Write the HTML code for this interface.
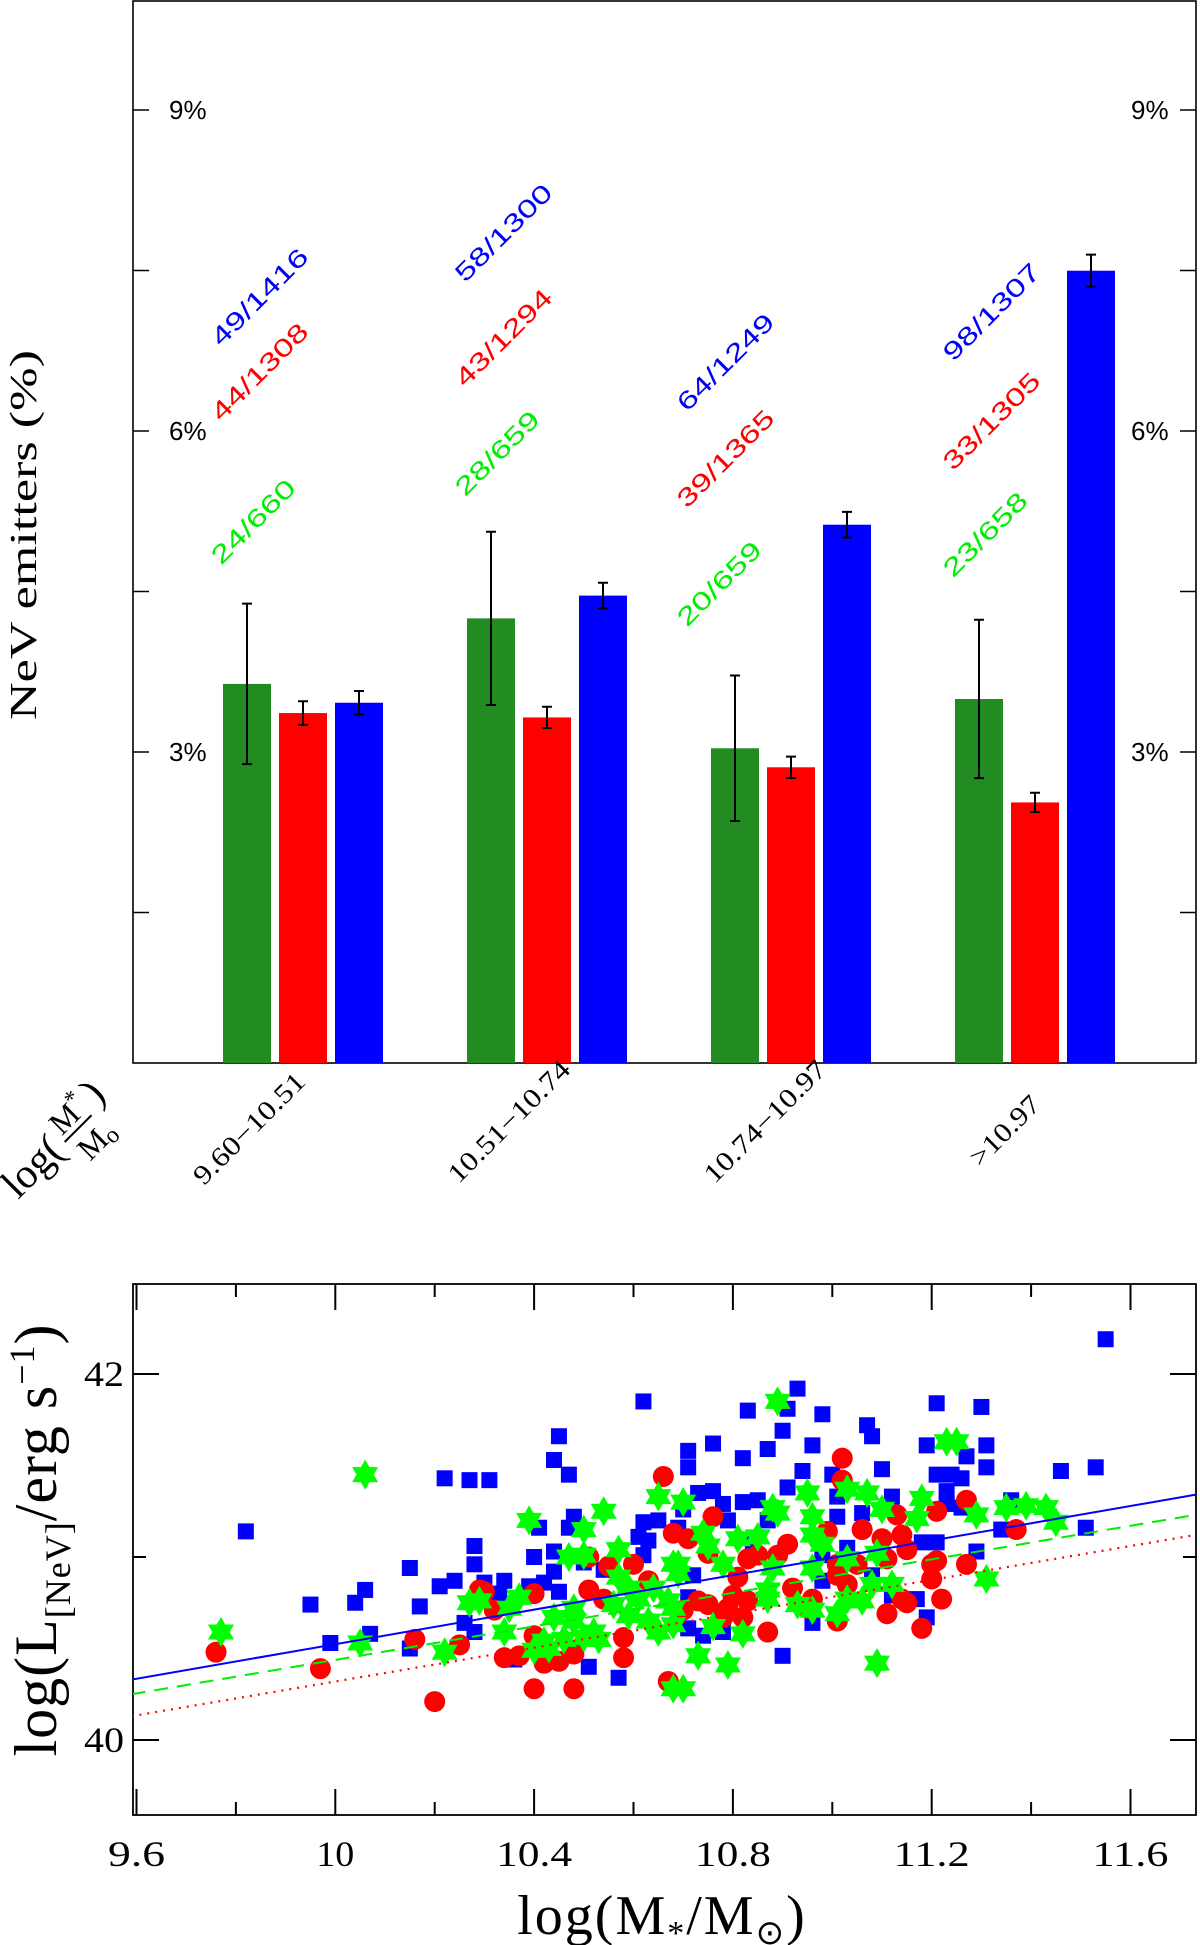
<!DOCTYPE html>
<html><head><meta charset="utf-8"><title>NeV emitters vs stellar mass</title>
<style>
html,body{margin:0;padding:0;background:#fff;}
svg{display:block;}
text{font-family:"Liberation Serif",serif;}
.s{font-family:"Liberation Sans",sans-serif;}
</style></head>
<body>
<svg id="fig" width="1200" height="1945" viewBox="0 0 1200 1945" xmlns="http://www.w3.org/2000/svg">
<g id="topPanel"></g>
<g id="botPanel"></g>
</svg>
<script>
// ---------- Top chart data ----------
const binLabels = ["9.60\u221210.51","10.51\u221210.74","10.74\u221210.97",">10.97"];
const greenNum = [24,28,20,23];
const greenDen = [660,659,659,658];
const redNum = [44,43,39,33];
const redDen = [1308,1294,1365,1305];
const blueNum = [49,58,64,98];
const blueDen = [1416,1300,1249,1307];
const greenErr = [0.75,0.81,0.68,0.74];
const redErr = [0.11,0.10,0.10,0.09];
const blueErr = [0.11,0.12,0.12,0.15];
const pctTicks = [3,6,9];
const pctTickLabels = ["3%","6%","9%"];
const minorPct = [1.5,4.5,7.5];
const greenLabelY = [4.74,5.38,4.16,4.62];
const redLabelY = [6.08,6.40,5.27,5.62];
const blueLabelY = [6.78,7.38,6.17,6.64];

// ---------- Bottom chart data ----------
const xTicks = [9.6,10,10.4,10.8,11.2,11.6];
const xTickLabels = ["9.6","10","10.4","10.8","11.2","11.6"];
const xMinor = [9.8,10.2,10.6,11.0,11.4];
const yTicks = [40,42];
const yTickLabels = ["40","42"];
const yMinor = [41];
const fitX = [9.59,11.73];
const blueFit = [40.33,41.34];
const greenFit = [40.25,41.23];
const redFit = [40.13,41.12];
const blueX = [9.82,9.95,10.04,10.06,10.15,10.21,10.17,10.24,10.28,10.28,10.22,10.27,10.31,10.45,10.44,10.47,10.62,10.48,10.41,10.40,10.44,10.34,10.30,10.33,10.39,10.42,10.45,10.47,10.26,10.28,10.07,9.99,10.15,10.51,10.57,10.36,10.62,10.65,10.61,10.63,10.62,10.54,10.44,10.50,
11.55,10.93,10.83,10.91,10.98,10.90,10.76,10.87,10.96,10.82,10.71,10.71,10.94,11.07,11.08,11.10,11.21,11.30,11.19,11.31,11.27,11.31,11.21,11.24,11.26,11.46,11.53,10.91,10.82,10.85,10.76,10.78,10.73,10.70,11.00,11.01,11.01,11.06,11.12,11.23,11.23,11.34,11.51,11.21,11.29,11.18,10.79,10.87,10.69,10.72,10.71,10.71,10.74,10.78,10.96,11.08,11.12,11.17,11.19,10.90,10.98,11.36,11.26,10.84,10.98,11.03];
const blueY = [41.14,40.74,40.75,40.82,40.94,40.84,40.73,40.87,41.06,40.96,41.43,41.42,41.42,41.66,41.53,41.45,41.85,41.22,41.16,41.00,41.03,40.87,40.86,40.80,40.84,40.86,40.81,41.16,40.64,40.59,40.58,40.53,40.50,40.40,40.34,40.44,41.19,41.20,41.11,41.09,41.01,40.93,40.92,40.97,
42.19,41.92,41.80,41.81,41.78,41.69,41.62,41.59,41.61,41.54,41.58,41.49,41.47,41.72,41.66,41.48,41.84,41.82,41.61,41.61,41.55,41.49,41.45,41.45,41.43,41.47,41.49,41.38,41.30,41.31,41.36,41.29,41.35,41.26,41.45,41.33,41.22,41.24,41.33,41.36,41.29,41.15,41.16,41.08,41.03,41.08,41.20,41.20,41.16,40.90,40.78,40.61,40.57,40.59,40.64,40.90,40.79,40.77,40.67,40.46,40.87,41.31,41.27,41.07,41.01,41.05];
const redX = [9.76,9.97,10.16,10.20,10.25,10.29,10.30,10.32,10.40,10.40,10.48,10.34,10.37,10.40,10.42,10.45,10.48,10.51,10.54,10.51,10.55,10.60,10.58,10.58,10.66,10.68,10.67,10.63,
11.02,11.02,10.76,10.71,10.75,10.99,11.06,11.10,11.14,11.15,11.13,11.21,11.27,11.37,10.91,10.83,10.85,10.89,11.01,11.05,11.01,11.11,11.20,11.21,11.27,11.20,11.22,11.15,11.11,11.18,10.87,10.81,10.80,10.83,10.79,10.82,10.75,10.73,10.70,10.78,10.92,10.95,10.96,11.01,11.03,11.14];
const redY = [40.48,40.39,40.55,40.21,40.52,40.82,40.81,40.71,40.80,40.28,40.28,40.45,40.46,40.57,40.42,40.43,40.47,40.82,40.77,41.00,40.95,40.96,40.56,40.45,41.44,41.13,40.32,40.87,
41.54,41.42,41.22,41.10,41.02,41.14,41.15,41.10,41.12,41.04,41.23,41.25,41.31,41.15,41.07,40.99,41.01,41.01,40.96,40.96,40.90,40.99,40.96,40.98,40.96,40.88,40.77,40.75,40.69,40.61,40.59,40.89,40.79,40.76,40.72,40.67,40.74,40.76,40.71,40.67,40.83,40.72,40.77,40.65,40.85,40.77];
const greenX = [9.77,10.06,10.05,10.22,10.27,10.29,10.35,10.37,10.34,10.39,10.50,10.54,10.57,10.47,10.50,10.44,10.48,10.48,10.52,10.53,10.42,10.40,10.43,10.46,10.50,10.57,10.59,10.61,10.56,10.63,10.65,10.65,10.68,10.68,10.59,10.64,10.68,
10.89,11.23,11.25,10.70,10.88,10.89,10.95,10.96,11.03,11.07,11.10,11.18,11.17,11.29,11.35,11.39,11.43,11.45,10.74,10.75,10.81,10.85,10.96,10.98,10.78,10.69,10.69,10.88,10.96,11.03,11.09,11.08,11.12,10.87,10.87,10.67,10.68,10.76,10.82,10.93,10.96,11.01,11.03,11.06,11.31,10.73,10.79,11.09,10.70];
const greenY = [40.59,41.45,40.53,40.48,40.75,40.76,40.72,40.78,40.59,41.20,41.15,41.25,41.04,41.00,41.01,40.67,40.72,40.65,40.59,40.55,40.54,40.49,40.50,40.55,40.56,40.89,40.83,40.77,40.74,40.65,40.59,41.33,40.96,40.28,40.68,40.83,40.72,
41.85,41.63,41.63,41.30,41.27,41.24,41.35,41.22,41.37,41.35,41.26,41.32,41.21,41.23,41.27,41.28,41.27,41.19,41.13,41.06,41.10,41.11,41.12,41.07,40.96,40.96,40.91,40.94,40.94,40.99,41.02,40.85,40.85,40.82,40.77,40.76,40.63,40.62,40.58,40.74,40.71,40.69,40.77,40.76,40.88,40.46,40.41,40.42,40.28];

const NS = "http://www.w3.org/2000/svg";
function mk(parent, tag, attrs, txt){
  const e = document.createElementNS(NS, tag);
  for (const k in attrs) e.setAttribute(k, attrs[k]);
  if (txt !== undefined) e.textContent = txt;
  parent.appendChild(e);
  return e;
}

// ================= TOP =================
const topG = document.getElementById('topPanel');
const T = {left:133, right:1196, top:1, bottom:1063};
const yP = v => 752 - (v - 3) * 107;
const groupX = i => 303 + i * 244;
const BW = 48, OFF = 56;

let fr = mk(topG,'rect',{x:T.left,y:T.top,width:T.right-T.left,height:T.bottom-T.top,fill:'none',stroke:'#000','stroke-width':1.6});



pctTicks.concat(minorPct).forEach(v=>{
  let t1 = mk(topG,'line',{x1:T.left,x2:T.left+16,y1:yP(v),y2:yP(v),stroke:'#000','stroke-width':1.5});
  
  
  let t2 = mk(topG,'line',{x1:T.right-16,x2:T.right,y1:yP(v),y2:yP(v),stroke:'#000','stroke-width':1.5});
  
  
});
pctTicks.forEach((v,i)=>{
  let l = mk(topG,'text',{x:169,y:yP(v)+9,'font-size':26,class:'s'},pctTickLabels[i]);
  
  
  let r = mk(topG,'text',{x:1131,y:yP(v)+9,'font-size':26,class:'s'},pctTickLabels[i]);
  
  
});

let yt = mk(topG,'text',{x:0,y:0,'font-size':38,transform:'translate(36,535) rotate(-90)','text-anchor':'middle',textLength:370,lengthAdjust:'spacingAndGlyphs'},'NeV emitters (%)');



const series = [
  {num:greenNum,den:greenDen,err:greenErr,fill:'#228b22',lab:'#00ee00',ly:greenLabelY,off:-OFF,name:'green'},
  {num:redNum,den:redDen,err:redErr,fill:'#ff0000',lab:'#ff0000',ly:redLabelY,off:0,name:'red'},
  {num:blueNum,den:blueDen,err:blueErr,fill:'#0000ff',lab:'#0000ff',ly:blueLabelY,off:OFF,name:'blue'}
];
series.forEach(s=>{
  s.num.forEach((n,i)=>{
    const v = 100*n/s.den[i];
    const cx = groupX(i)+s.off;
    let b = mk(topG,'rect',{x:cx-BW/2,y:yP(v),width:BW,height:T.bottom-yP(v),fill:s.fill});
    
    
    const e = s.err[i];
    let eb = mk(topG,'path',{d:'M'+cx+','+yP(v+e)+'V'+yP(v-e)+'M'+(cx-5)+','+yP(v+e)+'H'+(cx+5)+'M'+(cx-5)+','+yP(v-e)+'H'+(cx+5),stroke:'#000','stroke-width':2,fill:'none'});
    
    
    const lx = groupX(i) - 82 + (i===2 ? -22 : 0);
    const str = n+'/'+s.den[i];
    let t = mk(topG,'text',{x:0,y:0,'font-size':25,class:'s',fill:s.lab,transform:'translate('+lx+','+yP(s.ly[i])+') rotate(-45)',textLength:str.length*18,lengthAdjust:'spacingAndGlyphs'},str);
    
    
  });
});

const binEnds = [[307,1083],[572,1071],[828,1071],[1042,1106]];
binLabels.forEach((s,i)=>{
  let t = mk(topG,'text',{x:0,y:0,'font-size':27,'text-anchor':'end',transform:'translate('+binEnds[i][0]+','+binEnds[i][1]+') rotate(-45)',textLength:s.length*14.6,lengthAdjust:'spacingAndGlyphs'},s);
  
  
});
const lg = mk(topG,'g',{transform:'translate(18,1200) rotate(-45)'});


mk(lg,'text',{x:0,y:0,'font-size':42},'log(');
mk(lg,'text',{x:76,y:-14,'font-size':32},'M');
mk(lg,'text',{x:104,y:-26,'font-size':24},'*');
mk(lg,'line',{x1:74,x2:112,y1:-8,y2:-8,stroke:'#000','stroke-width':2});
mk(lg,'text',{x:78,y:24,'font-size':32},'M');
mk(lg,'text',{x:106,y:28,'font-size':24},'o');
mk(lg,'text',{x:122,y:-10,'font-size':42},')');

// ================= BOTTOM =================
const botG = document.getElementById('botPanel');
const B = {left:133, right:1196, top:1284, bottom:1815};
const xS = x => 136.5 + (x - 9.6) * 497;
const yS = y => 1740 - (y - 40) * 183;

let clip = mk(botG,'clipPath',{id:'bc'});
mk(clip,'rect',{x:B.left,y:B.top,width:B.right-B.left,height:B.bottom-B.top});
let bfr = mk(botG,'rect',{x:B.left,y:B.top,width:B.right-B.left,height:B.bottom-B.top,fill:'none',stroke:'#000','stroke-width':1.8});



xTicks.forEach((v,i)=>{
  let a = mk(botG,'path',{d:'M'+xS(v)+','+B.bottom+'v-26M'+xS(v)+','+B.top+'v26',stroke:'#000','stroke-width':2});
  
  
  let l = mk(botG,'text',{x:xS(v),y:1866,'font-size':36,'text-anchor':'middle',textLength:xTickLabels[i].length*19,lengthAdjust:'spacingAndGlyphs'},xTickLabels[i]);
  
  
});
xMinor.forEach(v=>{
  let a = mk(botG,'path',{d:'M'+xS(v)+','+B.bottom+'v-13M'+xS(v)+','+B.top+'v13',stroke:'#000','stroke-width':2});
  
  
});
yTicks.forEach((v,i)=>{
  let a = mk(botG,'path',{d:'M'+B.left+','+yS(v)+'h26M'+B.right+','+yS(v)+'h-26',stroke:'#000','stroke-width':2});
  
  
  let l = mk(botG,'text',{x:104,y:yS(v)+12,'font-size':36,'text-anchor':'middle',textLength:40,lengthAdjust:'spacingAndGlyphs'},yTickLabels[i]);
  
  
});
yMinor.forEach(v=>{
  let a = mk(botG,'path',{d:'M'+B.left+','+yS(v)+'h13M'+B.right+','+yS(v)+'h-13',stroke:'#000','stroke-width':2});
  
  
});

const pts = mk(botG,'g',{'clip-path':'url(#bc)'});


blueX.forEach((x,i)=>{
  let r = mk(pts,'rect',{x:xS(x)-8,y:yS(blueY[i])-8,width:16,height:16,fill:'#0000ff'});
  
  
});
redX.forEach((x,i)=>{
  let c = mk(pts,'circle',{cx:xS(x),cy:yS(redY[i]),r:10.5,fill:'#ff0000'});
  
  
});
function starPath(cx,cy,R){
  let d='';
  for(let k=0;k<12;k++){
    const a = -Math.PI/2 + k*Math.PI/6;
    const r = k%2===0 ? R : R*0.58;
    d += (k===0?'M':'L') + (cx+r*Math.cos(a)).toFixed(1)+','+(cy+r*Math.sin(a)).toFixed(1);
  }
  return d+'Z';
}
greenX.forEach((x,i)=>{
  let s = mk(pts,'path',{d:starPath(xS(x),yS(greenY[i]),15),fill:'#00ff00'});
  
  
});
let fl1 = mk(pts,'line',{x1:xS(fitX[0]),x2:xS(fitX[1]),y1:yS(blueFit[0]),y2:yS(blueFit[1]),stroke:'#0000ff','stroke-width':2});


let fl2 = mk(pts,'line',{x1:xS(fitX[0]),x2:xS(fitX[1]),y1:yS(greenFit[0]),y2:yS(greenFit[1]),stroke:'#00ee00','stroke-width':2,'stroke-dasharray':'14,9'});


let fl3 = mk(pts,'line',{x1:xS(fitX[0]),x2:xS(fitX[1]),y1:yS(redFit[0]),y2:yS(redFit[1]),stroke:'#ff0000','stroke-width':2.2,'stroke-dasharray':'2,6'});



let xt = mk(botG,'text',{x:662,y:1934,'font-size':56,'text-anchor':'middle','letter-spacing':2});


xt.innerHTML = 'log(M<tspan font-size="34" dy="10">*</tspan><tspan dy="-10">/M</tspan><tspan font-size="34" dy="10">\u2299</tspan><tspan dy="-10">)</tspan>';
let yt2 = mk(botG,'text',{x:0,y:0,'font-size':60,'text-anchor':'middle','letter-spacing':1,transform:'translate(56,1540) rotate(-90)'});


yt2.innerHTML = 'log(L<tspan font-size="36" dy="14">[NeV]</tspan><tspan dy="-14">/erg s</tspan><tspan font-size="36" dy="-22">\u22121</tspan><tspan dy="22">)</tspan>';
</script>
</body></html>
